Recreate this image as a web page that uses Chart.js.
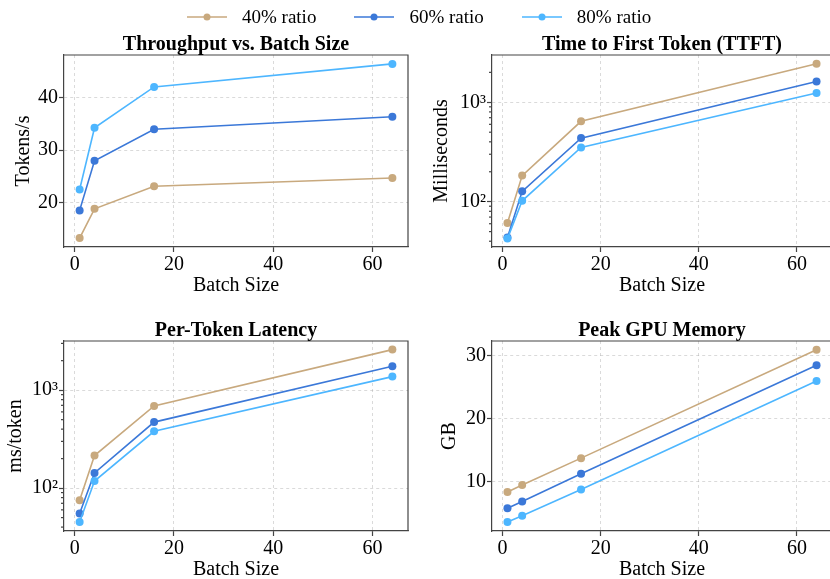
<!DOCTYPE html>
<html>
<head>
<meta charset="utf-8">
<script src="https://cdn.jsdelivr.net/npm/chart.js@4.4.1/dist/chart.umd.min.js"></script>
<style>
html,body{margin:0;padding:0;width:830px;height:579px;overflow:hidden;background:#fff;}
canvas{position:absolute;}
#legend{position:absolute;left:187px;top:6px;height:22px;display:flex;gap:38px;font:19px 'Liberation Serif','Times New Roman',serif;line-height:22px;color:#000;}
#legend .item{display:flex;align-items:center;}
#legend svg{margin-right:15px;}
</style>
</head>
<body>
<canvas id="tput" width="415" height="300" style="left:0;top:0"></canvas>
<canvas id="ttft" width="421" height="300" style="left:415px;top:0"></canvas>
<canvas id="lat" width="415" height="279" style="left:0;top:300px"></canvas>
<canvas id="mem" width="421" height="279" style="left:415px;top:300px"></canvas>
<div id="legend"></div>
<script>
const batchSizes=[1,4,16,64];
const seriesLabels=['40% ratio','60% ratio','80% ratio'];
const seriesColors=['#C8A97E','#3B78D8','#4DB6FF'];

// throughput, tokens/s
const tput40=[13.2,18.8,23.1,24.7];
const tput60=[18.5,28.0,34.0,36.4];
const tput80=[22.5,34.3,42.1,46.5];
// time to first token, ms
const ttft40=[61,183,643,2437];
const ttft60=[43.5,127,436,1618];
const ttft80=[42.5,102,351,1242];
// per-token latency, ms/token
const lat40=[75,215,689,2594];
const lat60=[55,143,472,1750];
const lat80=[45,118,380,1375];
// peak memory, GB
const mem40=[8.3,9.4,13.7,31.0];
const mem60=[5.7,6.8,11.2,28.5];
const mem80=[3.5,4.5,8.7,26.0];

const FONT="'Liberation Serif','Times New Roman',serif";
const GRID='rgba(170,170,170,0.55)';
const AXIS='#444';
const sup={1:'¹',2:'²',3:'³',4:'⁴'};
Chart.defaults.font.family=FONT;
Chart.defaults.font.size=20;
Chart.defaults.color='#000';

const isPow10=v=>Math.abs(Math.log10(v)-Math.round(Math.log10(v)))<1e-6;

// top/right spines, minor log ticks and panel title
const frame={id:'frame',afterDraw(chart,args,opts){
  const {ctx,chartArea:{left,top,right,bottom}}=chart;
  ctx.save();
  ctx.strokeStyle=AXIS;ctx.lineWidth=1.2;
  ctx.beginPath();ctx.moveTo(left,top);ctx.lineTo(right,top);ctx.lineTo(right,bottom);ctx.stroke();
  const y=chart.scales.y;
  if(y.type==='logarithmic'){
    y.ticks.forEach(t=>{
      if(isPow10(t.value)) return;
      const p=y.getPixelForValue(t.value);
      ctx.beginPath();ctx.moveTo(left-3,p);ctx.lineTo(left,p);ctx.stroke();
    });
  }
  ctx.font='bold 20px '+FONT;ctx.fillStyle='#000';ctx.textAlign='center';ctx.textBaseline='alphabetic';
  ctx.fillText(opts.text,(left+right)/2,top-5.5);
  ctx.restore();
}};

function makeChart(id,title,yTitle,logY,yMin,yMax,series,box){
  const datasets=series.map((vals,i)=>({
    label:seriesLabels[i],
    data:batchSizes.map((b,j)=>({x:b,y:vals[j]})),
    borderColor:seriesColors[i],backgroundColor:seriesColors[i],
    pointBackgroundColor:seriesColors[i],pointBorderWidth:0,
    pointRadius:4,pointHoverRadius:4,borderWidth:1.6,tension:0,
    order:series.length-1-i
  }));
  const yTicks=logY
    ?{autoSkip:false,padding:1,callback:v=>isPow10(v)?'10'+sup[Math.round(Math.log10(v))]:''}
    :{stepSize:10,includeBounds:false,padding:1};
  return new Chart(document.getElementById(id),{
    type:'line',
    data:{datasets},
    plugins:[frame],
    options:{
      responsive:false,animation:false,events:[],devicePixelRatio:1,
      layout:{padding:{top:box.padTop,right:box.padRight,left:0,bottom:0}},
      plugins:{legend:{display:false},tooltip:{enabled:false},frame:{text:title}},
      scales:{
        x:{type:'linear',min:-2.15,max:67.15,
          ticks:{stepSize:20,includeBounds:false,padding:1,maxRotation:0},
          grid:{color:GRID,lineWidth:0.8,tickColor:AXIS,tickLength:5,tickWidth:1.2},
          border:{color:AXIS,width:1.2,dash:[3,3]},
          title:{display:true,text:'Batch Size',padding:{top:0,bottom:box.xTitlePad}},
          afterFit:s=>{s.height=box.xHeight;}
        },
        y:{type:logY?'logarithmic':'linear',min:yMin,max:yMax,
          ticks:yTicks,
          afterBuildTicks:logY?s=>{
            s.ticks=s.ticks.filter(t=>{
              const m=t.value/Math.pow(10,Math.floor(Math.log10(t.value)+1e-9));
              return Math.abs(m-Math.round(m))<1e-6;
            });
          }:undefined,
          grid:{
            color:c=>(!logY||(c.tick&&isPow10(c.tick.value)))?GRID:'transparent',
            tickColor:c=>(!logY||(c.tick&&isPow10(c.tick.value)))?AXIS:'transparent',
            lineWidth:0.8,tickLength:5,tickWidth:1.2
          },
          border:{color:AXIS,width:1.2,dash:[3,3]},
          title:{display:true,text:yTitle,padding:{top:box.yTitlePad,bottom:0}},
          afterFit:s=>{s.width=box.yWidth;}
        }
      }
    }
  });
}

makeChart('tput','Throughput vs. Batch Size','Tokens/s',false,11.5,48.2,[tput40,tput60,tput80],
  {yWidth:64,xHeight:53,padTop:55,padRight:7,yTitlePad:11.25,xTitlePad:2});
makeChart('ttft','Time to First Token (TTFT)','Milliseconds',true,35,2990,[ttft40,ttft60,ttft80],
  {yWidth:77,xHeight:53,padTop:55,padRight:0,yTitlePad:14.5,xTitlePad:2});
makeChart('lat','Per-Token Latency','ms/token',true,36.5,3175,[lat40,lat60,lat80],
  {yWidth:64,xHeight:48,padTop:41,padRight:7,yTitlePad:3.25,xTitlePad:-3});
makeChart('mem','Peak GPU Memory','GB',false,2.08,32.38,[mem40,mem60,mem80],
  {yWidth:77,xHeight:48,padTop:41,padRight:0,yTitlePad:23,xTitlePad:-3});

const legend=document.getElementById('legend');
seriesLabels.forEach((lab,i)=>{
  const it=document.createElement('div');
  it.className='item';
  it.innerHTML=`<svg width="40" height="12"><line x1="0" y1="6" x2="40" y2="6" stroke="${seriesColors[i]}" stroke-width="1.6"/><circle cx="20" cy="6" r="3.5" fill="${seriesColors[i]}"/></svg><span>${lab}</span>`;
  legend.appendChild(it);
});
</script>
</body>
</html>
